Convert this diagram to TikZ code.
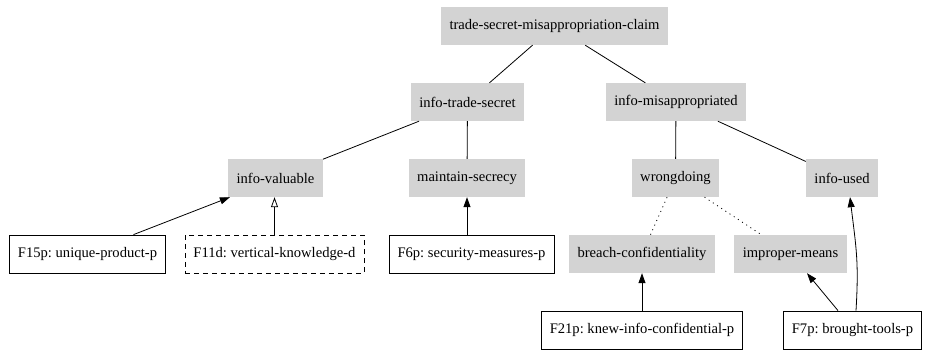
\documentclass[tikz,border=0pt]{standalone}
\usepackage{fontspec}
\setmainfont{Liberation Serif}
\frenchspacing
\usetikzlibrary{arrows.meta}
\definecolor{issuegray}{RGB}{211,211,211}

\begin{document}
\begin{tikzpicture}[x=1pt, y=-1pt,
    issue/.style={fill=issuegray, inner xsep=8.5pt, minimum height=38pt, font=\fontsize{14.6}{16}\selectfont},
    fact/.style={draw, line width=0.8pt, fill=white, inner xsep=8.5pt, minimum height=38pt, font=\fontsize{14.6}{16}\selectfont},
    link/.style={line width=0.8pt},
    pro/.style={line width=0.8pt, -{Triangle[length=10pt,width=7pt]}},
    con/.style={line width=0.8pt, -{Triangle[open,length=10pt,width=7pt]}}]
    \useasboundingbox (0,0) rectangle (925,360);
    % Issue nodes
    \node[issue] (root) at (554.5,26) {trade-secret-misappropriation-claim};
    \node[issue] (its) at (467.5,102) {info-trade-secret};
    \node[issue] (imis) at (676,102) {info-misappropriated};
    \node[issue] (ival) at (275.5,178) {info-valuable};
    \node[issue] (msec) at (467,178) {maintain-secrecy};
    \node[issue] (wrong) at (675.5,178) {wrongdoing};
    \node[issue] (iused) at (842,178) {info-used};
    \node[issue] (breach) at (642,254) {breach-confidentiality};
    \node[issue] (improper) at (790.5,254) {improper-means};
    % Factor nodes
    \node[fact] (f15) at (87.5,254) {F15p: unique-product-p};
    \node[fact, dashed, dash pattern=on 5pt off 4pt] (f11) at (274.5,254) {F11d: vertical-knowledge-d};
    \node[fact] (f6) at (471.5,254) {F6p: security-measures-p};
    \node[fact] (f21) at (642,330) {F21p: knew-info-confidential-p};
    \node[fact] (f7) at (852.5,330) {F7p: brought-tools-p};
    % Tree edges
    \foreach \a/\b in {root/its, root/imis, its/ival, its/msec, imis/wrong, imis/iused} {
        \draw[link] (\a) -- (\b);
    }
    \foreach \b in {breach, improper} {
        \draw[link, dash pattern=on 1pt off 4pt] (wrong) -- (\b);
    }
    % Factor edges
    \draw[pro] ([xshift=46pt]f15.north) -- ([xshift=2pt]ival.south west);
    \draw[con] (f11.north) -- (f11.north |- ival.south);
    \draw[pro] (f6.north -| msec.south) -- (msec.south);
    \draw[pro] (f21) -- (breach);
    \draw[pro] ([xshift=-14.5pt]f7.north) -- ([xshift=16.5pt]improper.south);
    \draw[pro] ([xshift=3.5pt]f7.north) .. controls +(3,-50) and +(6,50) .. ([xshift=8pt]iused.south);
\end{tikzpicture}
\end{document}
